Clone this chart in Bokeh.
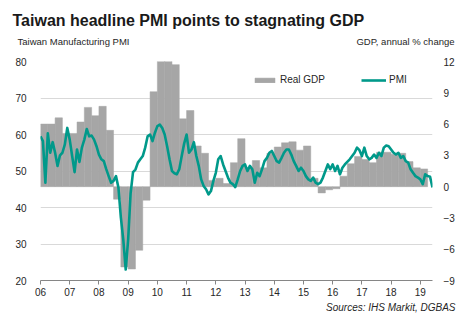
from bokeh.plotting import figure
from bokeh.models import (Range1d, LinearAxis, FixedTicker, Legend, LegendItem,
                          Title, ColumnDataSource)
from bokeh.embed import file_html
from bokeh.resources import INLINE

# ---------------- data ----------------
year_ticks = list(range(2006, 2020))
year_labels = ["06", "07", "08", "09", "10", "11", "12", "13", "14", "15", "16", "17", "18", "19"]
pmi_ticks = [20, 30, 40, 50, 60, 70, 80]
gdp_ticks = [-9, -6, -3, 0, 3, 6, 9, 12]

# Taiwan Manufacturing PMI, monthly Jan 2006 - Jun 2019
pmi = [
    59.5, 58.2, 46.8, 60.3, 55.0, 57.9, 55.0, 51.4, 54.3, 55.0, 57.3, 61.8,   # 2006
    58.6, 54.1, 49.7, 55.9, 52.5, 56.4, 58.6, 61.5, 59.5, 59.7, 58.6, 56.8,   # 2007
    54.5, 53.2, 52.7, 50.5, 48.6, 46.8, 47.3, 48.6, 45.5, 37.3, 31.2, 23.0,   # 2008
    31.2, 43.8, 49.7, 50.4, 52.3, 53.2, 54.1, 56.4, 59.5, 60.0, 58.2, 60.5,   # 2009
    62.3, 62.7, 61.8, 60.0, 56.8, 53.2, 50.0, 49.4, 49.1, 50.5, 54.1, 57.5,   # 2010
    60.0, 55.0, 55.9, 57.9, 54.1, 51.4, 47.7, 45.9, 45.0, 43.6, 44.5, 47.3,   # 2011
    49.5, 53.2, 54.1, 51.8, 50.0, 48.2, 46.8, 46.4, 45.6, 47.7, 50.0, 51.4,   # 2012
    51.8, 50.0, 51.4, 50.5, 46.8, 49.5, 48.6, 50.5, 52.7, 53.6, 55.0, 55.5,   # 2013
    54.1, 52.7, 52.3, 53.6, 55.0, 55.9, 55.9, 54.5, 52.7, 51.4, 50.0, 50.9,   # 2014
    50.0, 48.6, 47.7, 47.3, 48.2, 46.8, 46.4, 46.8, 48.2, 50.0, 51.8, 50.5,   # 2015
    51.8, 50.0, 51.4, 49.1, 50.9, 51.8, 52.5, 53.2, 54.1, 55.0, 56.4, 55.7,   # 2016
    54.1, 56.4, 54.1, 53.2, 53.6, 54.5, 53.6, 55.0, 54.1, 56.4, 57.0, 56.8,   # 2017
    55.9, 55.0, 54.5, 55.0, 53.6, 54.1, 52.7, 52.3, 50.5, 49.5, 48.6, 48.2,   # 2018
    47.7, 46.4, 49.1, 48.6, 48.4, 45.5,                                       # 2019
]

# Real GDP, annual % change, quarterly 2006Q1 - 2019Q1
gdp = [
    6.0, 6.0, 6.6, 5.1,      # 2006
    5.1, 6.2, 7.6, 6.8,      # 2007
    7.7, 5.4, -1.2, -7.7,    # 2008
    -7.9, -6.1, -1.3, 9.1,   # 2009
    13.0, 12.6, 11.7, 6.5,   # 2010
    7.3, 3.9, 3.2, 0.6,      # 2011
    0.8, 0.3, 2.3, 4.6,      # 2012
    1.8, 2.5, 1.8, 3.2,      # 2013
    3.8, 4.2, 4.3, 3.5,      # 2014
    3.9, 0.8, -0.6, -0.3,    # 2015
    -0.2, 1.0, 2.2, 2.9,     # 2016
    2.6, 2.3, 3.3, 3.3,      # 2017
    3.1, 3.2, 2.4, 1.8,      # 2018
    1.7,                     # 2019
]

title_text = "Taiwan headline PMI points to stagnating GDP"
left_title = "Taiwan Manufacturing PMI"
right_title = "GDP, annual % change"
source_text = "Sources: IHS Markit, DGBAS"

# ---------------- derived positions (from the categories) ----------------
pmi_x = [2006 + i / 12 for i in range(len(pmi))]
gdp_left = [2006 + i / 4 for i in range(len(gdp))]
gdp_right = [2006 + (i + 1) / 4 for i in range(len(gdp))]

pmi_src = ColumnDataSource(dict(x=pmi_x, y=pmi))
gdp_src = ColumnDataSource(dict(left=gdp_left, right=gdp_right, top=gdp, bottom=[0] * len(gdp)))

FONT = "Liberation Sans"
TXT = "#262626"
TEAL = "#00998A"
GREY = "#A6A6A6"
W, H = 464, 323
FL, FR, FT, FB = 40, 432, 61, 280   # frame edges in page pixels

p = figure(width=W, height=H, output_backend="svg", toolbar_location=None,
           x_range=Range1d(2006, pmi_x[-1]), y_range=Range1d(20, 80),
           min_border_left=FL, min_border_right=W - FR,
           min_border_top=FT, min_border_bottom=H - FB)
p.extra_y_ranges = {"gdp": Range1d(-9, 12)}
p.extra_x_ranges = {"px": Range1d(FL, FR)}
p.outline_line_color = None
p.background_fill_color = "white"
p.border_fill_color = "white"

# bottom (date) axis -- grab it before any other x axis is added
xa = p.below[0]
xa.ticker = FixedTicker(ticks=year_ticks)
xa.major_label_overrides = {y: l for y, l in zip(year_ticks, year_labels)}
xa.axis_line_color = "#868686"
xa.major_tick_line_color = "#868686"
xa.major_tick_in = 0
xa.major_tick_out = 4
xa.minor_tick_line_color = None
xa.major_label_standoff = 3
xa.major_label_text_font = FONT
xa.major_label_text_font_size = "10px"
xa.major_label_text_color = TXT

ya = p.left[0]
ya.ticker = FixedTicker(ticks=pmi_ticks)
ya.axis_line_color = None
ya.major_tick_line_color = None
ya.minor_tick_line_color = None
ya.major_label_standoff = 8
ya.major_label_text_font = FONT
ya.major_label_text_font_size = "10px"
ya.major_label_text_color = TXT

# main title
p.title.text = title_text
p.title.align = "left"
p.title.offset = -28
p.title.text_font = FONT
p.title.text_font_size = "16px"
p.title.text_font_style = "bold"
p.title.text_color = "#1A1A1A"
p.title.standoff = 7

p.xgrid.visible = False
p.ygrid.ticker = FixedTicker(ticks=pmi_ticks)
p.ygrid.grid_line_color = "#D9D9D9"
p.ygrid.grid_line_width = 1

ra = LinearAxis(y_range_name="gdp", ticker=FixedTicker(ticks=gdp_ticks))
ra.axis_line_color = None
ra.major_tick_line_color = None
ra.minor_tick_line_color = None
ra.major_label_standoff = 5
ra.major_label_text_font = FONT
ra.major_label_text_font_size = "10px"
ra.major_label_text_color = TXT
p.add_layout(ra, "right")

# the two axis titles, written as labels of a bare axis above the frame
sub_pos = [73, 405]          # page-pixel centres of the two axis titles
ta = LinearAxis(x_range_name="px", ticker=FixedTicker(ticks=sub_pos))
ta.major_label_overrides = {sub_pos[0]: left_title, sub_pos[1]: right_title}
ta.axis_line_color = None
ta.major_tick_line_color = None
ta.minor_tick_line_color = None
ta.major_label_standoff = 9
ta.major_label_text_font = FONT
ta.major_label_text_font_size = "9.5px"
ta.major_label_text_color = TXT
p.add_layout(ta, "above")

# source line
src_title = Title(text=source_text, align="right", offset=-23, text_font=FONT,
                  text_font_size="10px", text_font_style="italic", text_color=TXT,
                  standoff=3)
p.add_layout(src_title, "below")

bars = p.quad(left="left", right="right", top="top", bottom="bottom", source=gdp_src,
              y_range_name="gdp", fill_color=GREY, line_color=GREY, line_width=0.5)
line = p.line(x="x", y="y", source=pmi_src, line_color=TEAL, line_width=2.6, line_join="round")

legend = Legend(items=[LegendItem(label="Real GDP", renderers=[bars]),
                       LegendItem(label="PMI", renderers=[line])],
                orientation="horizontal", location=(212, 195),
                glyph_width=25, glyph_height=6, label_height=10, label_standoff=3,
                spacing=36, padding=0, margin=0,
                border_line_alpha=0, background_fill_alpha=0,
                label_text_font=FONT, label_text_font_size="10px", label_text_color=TXT)
p.add_layout(legend)

open("out.html", "w").write(file_html(p, INLINE))
